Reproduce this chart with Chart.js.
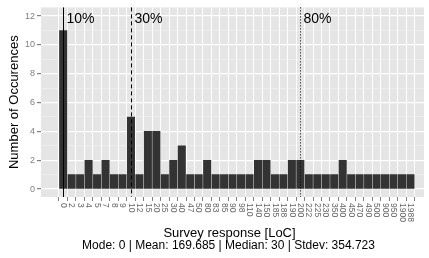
<!DOCTYPE html>
<html>
<head>
<meta charset="utf-8">
<script src="https://cdn.jsdelivr.net/npm/chart.js@4/dist/chart.umd.min.js"></script>
<style>
html,body{margin:0;padding:0;background:#fff;}
canvas{display:block;}
</style>
</head>
<body>
<canvas id="c" width="429" height="258"></canvas>
<script>
const categories = ['0','2','3','4','5','7','8','9','10','12','15','20','25','30','40','47','50','80','83','85','90','98','110','140','150','185','188','190','200','222','225','230','350','400','450','470','490','500','900','950','1900','1988'];
const counts = [11,1,1,2,1,2,1,1,5,1,4,4,1,2,3,1,1,2,1,1,1,1,1,2,2,1,1,2,2,1,1,1,1,2,1,1,1,1,1,1,1,1];
const yTickValues = [0,1,2,3,4,5,6,7,8,9,10,11,12];
const quantileLabels = ['10%','30%','80%'];
const quantileCategories = ['0','10','200'];
const quantileDashes = [[], [4,3], [1,2]];
const xTitle = 'Survey response [LoC]';
const xSubtitle = 'Mode: 0 | Mean: 169.685 | Median: 30 | Stdev: 354.723';
const yTitle = 'Number of Occurences';

const FONT = '"Liberation Sans", Arial, Helvetica, sans-serif';

const bgPlugin = {
  id: 'bg',
  beforeDraw(chart) {
    const {ctx, chartArea: a} = chart;
    ctx.save();
    ctx.fillStyle = '#E5E5E5';
    ctx.fillRect(a.left, a.top, a.right - a.left, a.bottom - a.top);
    ctx.restore();
  }
};

const annPlugin = {
  id: 'ann',
  afterDatasetsDraw(chart) {
    const {ctx, chartArea: a} = chart;
    const xs = chart.scales.x;
    ctx.save();
    quantileCategories.forEach((c, k) => {
      const x = Math.round(xs.getPixelForValue(categories.indexOf(c))) + 0.5;
      ctx.beginPath();
      ctx.setLineDash(quantileDashes[k]);
      ctx.strokeStyle = '#000';
      ctx.lineWidth = 1;
      ctx.moveTo(x, a.top);
      ctx.lineTo(x, a.bottom);
      ctx.stroke();
      ctx.setLineDash([]);
      ctx.fillStyle = '#000';
      ctx.font = '14px ' + FONT;
      ctx.textAlign = 'left';
      ctx.textBaseline = 'alphabetic';
      ctx.fillText(quantileLabels[k], x + 3, a.top + 16);
    });
    ctx.restore();
  },
  afterDraw(chart) {
    const {ctx, chartArea: a} = chart;
    const xs = chart.scales.x;
    ctx.save();
    ctx.fillStyle = '#666666';
    ctx.font = '8.5px ' + FONT;
    ctx.textAlign = 'left';
    ctx.textBaseline = 'middle';
    categories.forEach((c, i) => {
      const x = xs.getPixelForValue(i);
      ctx.save();
      ctx.translate(x, a.bottom + 6);
      ctx.rotate(Math.PI / 2);
      ctx.fillText(c, 0, 0);
      ctx.restore();
    });
    ctx.fillStyle = '#000';
    ctx.textAlign = 'center';
    ctx.textBaseline = 'middle';
    const cx = (a.left + a.right) / 2;
    ctx.font = '13px ' + FONT;
    ctx.fillText(xTitle, cx - 3, 233);
    ctx.font = '12px ' + FONT;
    ctx.fillText(xSubtitle, cx - 4, 246);
    ctx.font = '13px ' + FONT;
    ctx.save();
    ctx.translate(14, (a.top + a.bottom) / 2);
    ctx.rotate(-Math.PI / 2);
    ctx.fillText(yTitle, 0, 0);
    ctx.restore();
    ctx.restore();
  }
};

new Chart(document.getElementById('c'), {
  type: 'bar',
  data: {
    datasets: [{
      data: counts.map((v, i) => ({x: i, y: v})),
      backgroundColor: '#333333',
      borderWidth: 0,
      barThickness: 7.4
    }]
  },
  options: {
    responsive: false,
    animation: false,
    devicePixelRatio: 1,
    layout: {padding: {top: 7, right: 5, left: 0, bottom: 0}},
    plugins: {legend: {display: false}, tooltip: {enabled: false}, title: {display: false}},
    scales: {
      x: {
        type: 'linear',
        min: -2.62,
        max: 42.6,
        offset: false,
        afterBuildTicks(s) { s.ticks = categories.map((c, i) => ({value: i})); },
        afterFit(s) { s.height = 61; },
        ticks: {display: false},
        grid: {color: '#ffffff', lineWidth: 1, drawTicks: true, tickLength: 4, tickColor: '#7f7f7f'},
        border: {display: false}
      },
      y: {
        type: 'linear',
        min: -0.55,
        max: 12.6,
        afterBuildTicks(s) { s.ticks = yTickValues.map(v => ({value: v})); },
        afterFit(s) { s.width = 41; },
        ticks: {
          autoSkip: false,
          callback: v => (v % 2 === 0 ? String(v) : ''),
          color: '#7f7f7f',
          font: {size: 9, family: FONT},
          padding: 2
        },
        grid: {
          color: c => (c.tick && c.tick.value % 2 === 0 ? '#ffffff' : 'rgba(255,255,255,0.5)'),
          lineWidth: c => (c.tick && c.tick.value % 2 === 0 ? 1.2 : 0.6),
          drawTicks: true,
          tickLength: 4,
          tickColor: c => (c.tick && c.tick.value % 2 === 0 ? '#7f7f7f' : 'rgba(0,0,0,0)')
        },
        border: {display: false}
      }
    }
  },
  plugins: [bgPlugin, annPlugin]
});
</script>
</body>
</html>
